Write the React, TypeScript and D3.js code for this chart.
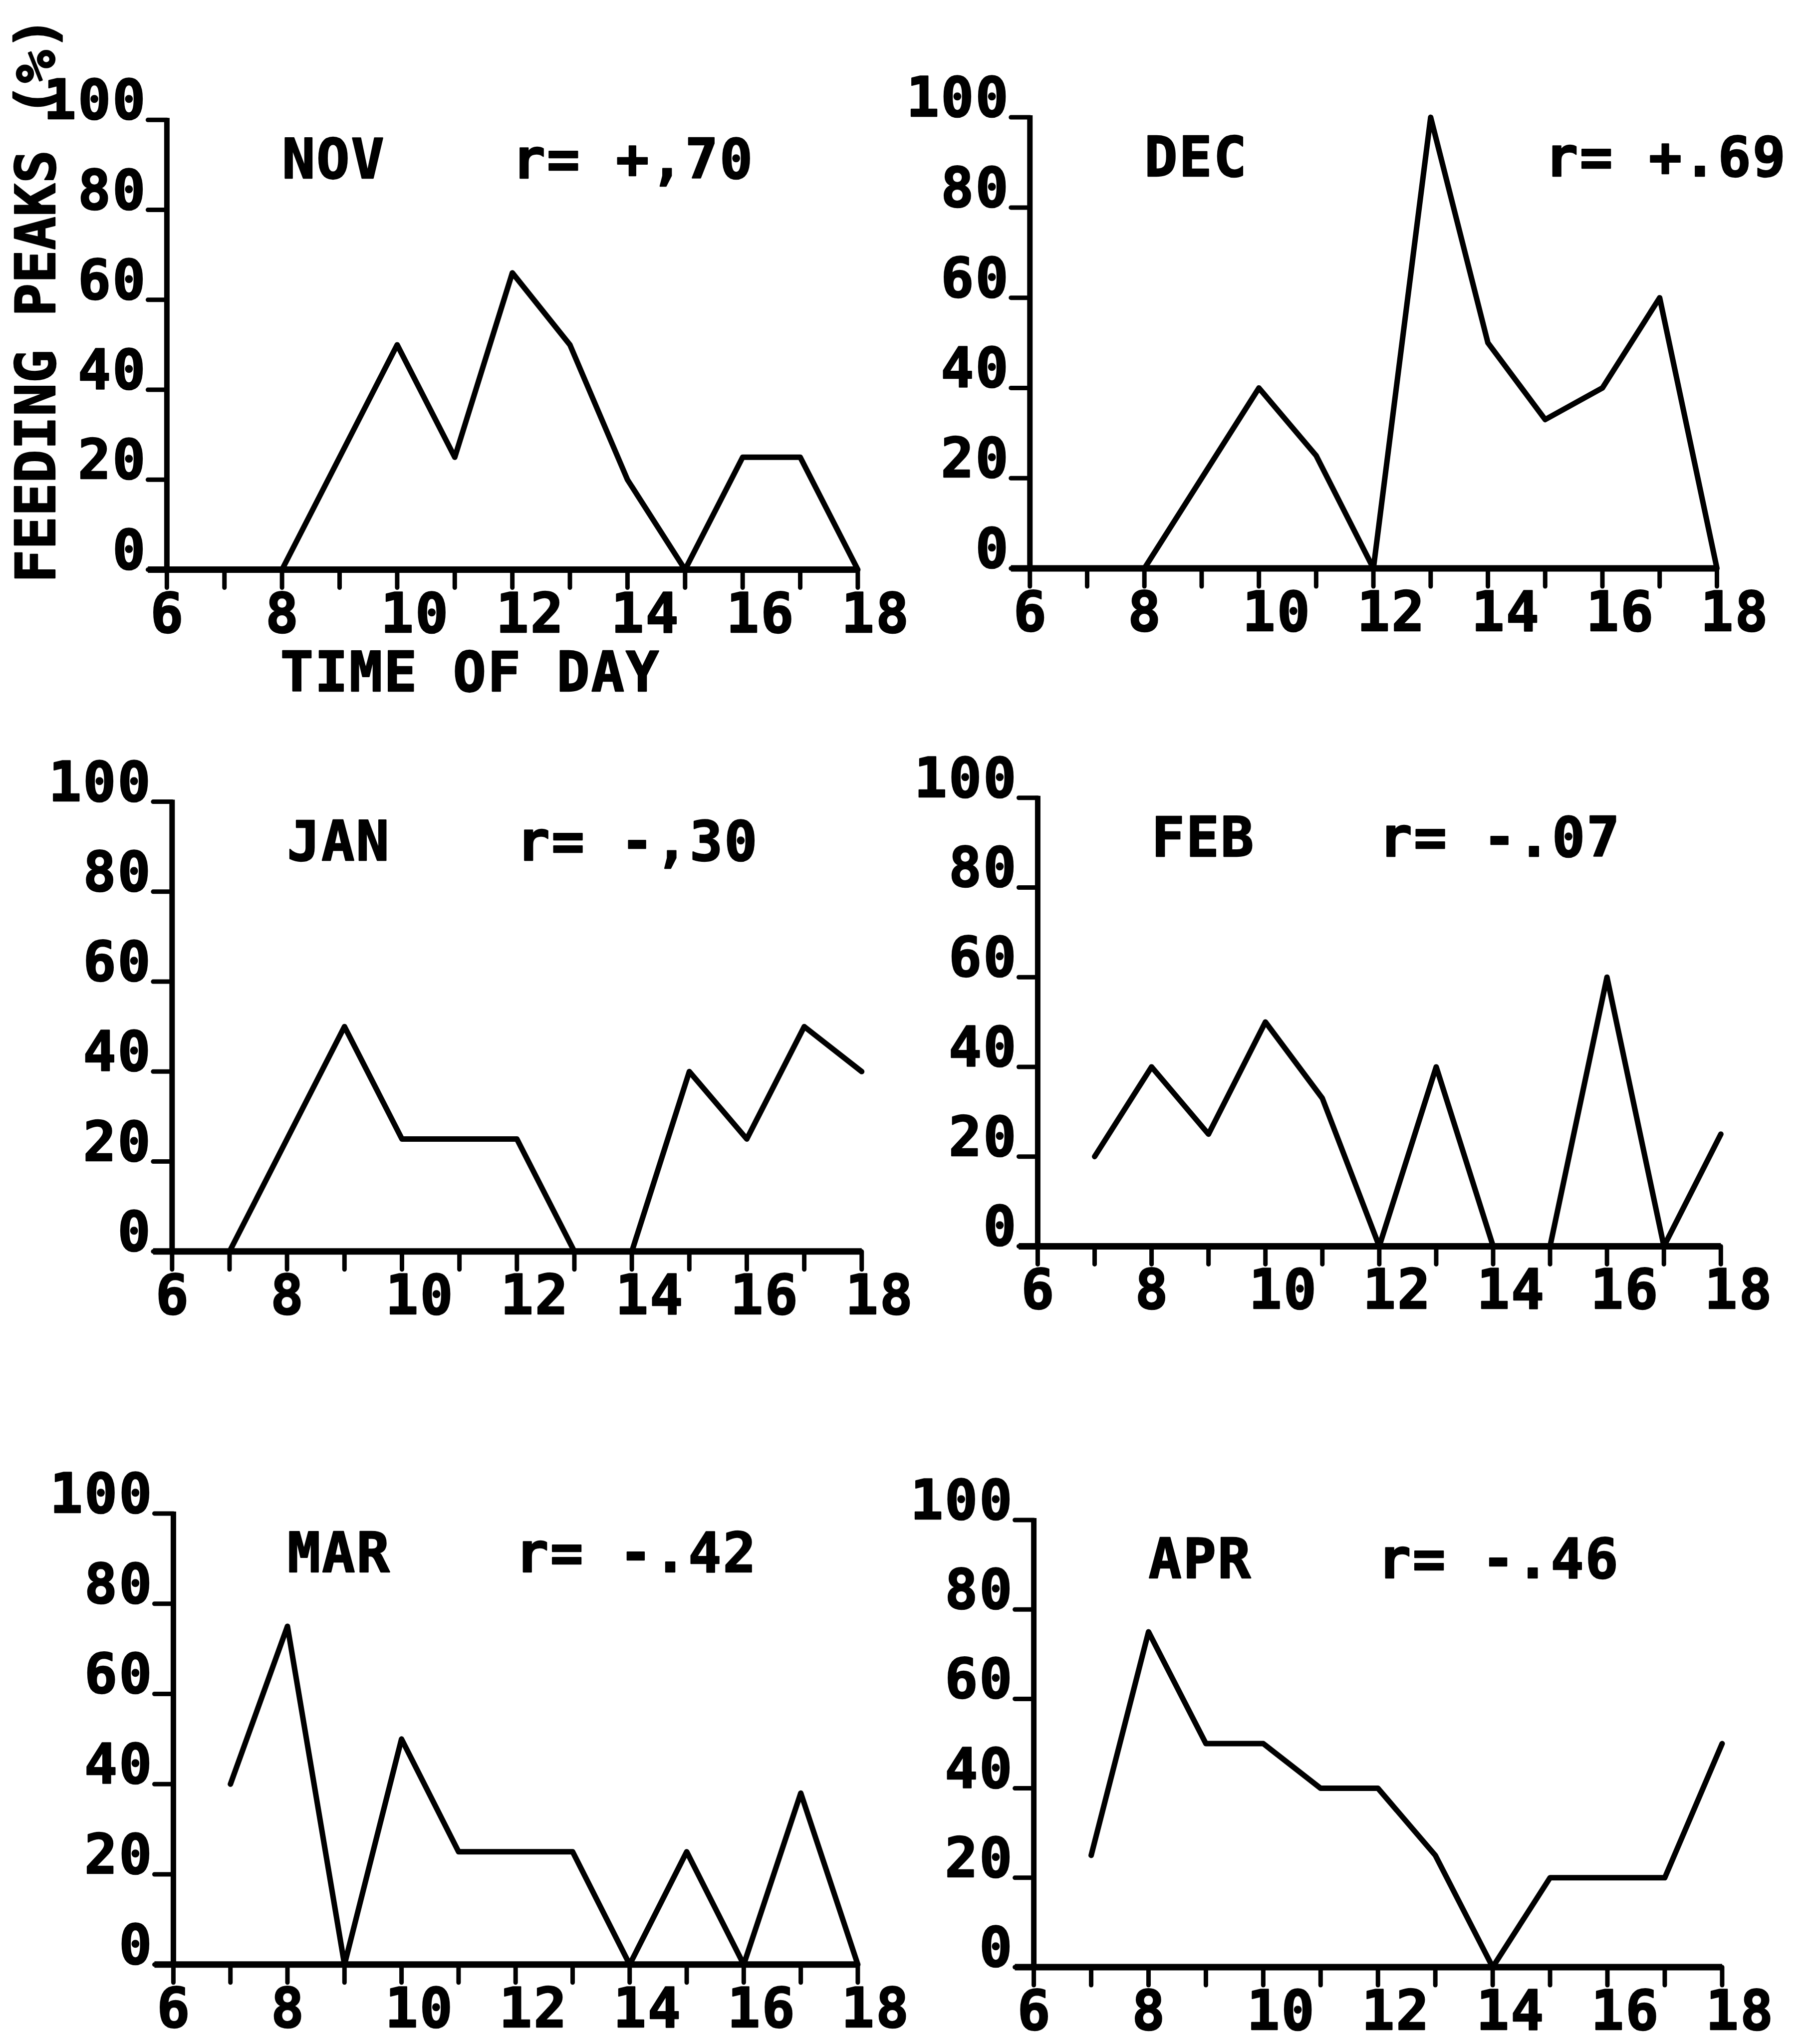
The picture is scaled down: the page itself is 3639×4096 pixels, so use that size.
import React from 'react';
import * as d3 from 'd3';

// Hour of day for each sample (hourly observations)
const HOURS = [7, 8, 9, 10, 11, 12, 13, 14, 15, 16, 17, 18];

// Feeding peaks (%) per hour, one array per month
const NOV = [0, 0, 25, 50, 25, 66, 50, 20, 0, 25, 25, 0];
const DEC = [0, 0, 20, 40, 25, 0, 100, 50, 33, 40, 60, 0];
const JAN = [0, 25, 50, 25, 25, 25, 0, 0, 40, 25, 50, 40];
const FEB = [20, 40, 25, 50, 33, 0, 40, 0, 0, 60, 0, 25];
const MAR = [40, 75, 0, 50, 25, 25, 25, 0, 25, 0, 38, 0];
const APR = [25, 75, 50, 50, 40, 40, 25, 0, 20, 20, 20, 50];

const MONTHS = ['NOV', 'DEC', 'JAN', 'FEB', 'MAR', 'APR'];
const SERIES = [NOV, DEC, JAN, FEB, MAR, APR];
const R_LABELS = ['r= +,70', 'r= +.69', 'r= -,30', 'r= -.07', 'r= -.42', 'r= -.46'];
const R_HOUR = [12, 15, 12, 12, 12, 12];

const X_DOMAIN = [6, 18];
const X_TICKS = [6, 7, 8, 9, 10, 11, 12, 13, 14, 15, 16, 17, 18];
const X_LABELS = [6, 8, 10, 12, 14, 16, 18];
const Y_TICKS = [0, 20, 40, 60, 80, 100];

const W = 3639;
const H = 4096;
const S = W / 1393; // layout unit

// Plot frames: left (hour 6), right (hour 18), bottom (0 %), top (100 %)
const FRAMES = [
  { l: 128, r: 658, b: 437, t: 92 },
  { l: 790, r: 1317, b: 436, t: 90 },
  { l: 132, r: 661, b: 960, t: 615 },
  { l: 796, r: 1320, b: 956, t: 612 },
  { l: 133, r: 658, b: 1507, t: 1161 },
  { l: 793, r: 1321, b: 1509, t: 1166 },
];

const FONT = '"DejaVu Sans Mono", monospace';
const FS = 110;
const LS = 3;
const ADV = FS * 0.602 + LS;

const textStyle = {
  fontFamily: FONT,
  fontWeight: 700 as const,
  fontSize: FS,
  letterSpacing: LS,
  stroke: '#000',
  strokeWidth: 2.5,
  strokeLinejoin: 'round' as const,
};

function Panel({ idx }: { idx: number }) {
  const f = FRAMES[idx];
  const x = d3.scaleLinear().domain(X_DOMAIN).range([f.l * S, f.r * S]);
  const y = d3.scaleLinear().domain([0, 100]).range([f.b * S, f.t * S]);
  const data = HOURS.map((h, i) => [h, SERIES[idx][i]] as [number, number]);
  const line = d3
    .line<[number, number]>()
    .x((d) => x(d[0]))
    .y((d) => y(d[1]));
  const yTickLen = 38;
  const xTickLen = 36;
  return (
    <g>
      {/* y axis */}
      <line x1={x(6)} x2={x(6)} y1={y(0)} y2={y(100) - 4} stroke="#000" strokeWidth={11} />
      {Y_TICKS.map((v) => (
        <g key={'yt' + v}>
          <line x1={x(6) - yTickLen} x2={x(6)} y1={y(v)} y2={y(v)} stroke="#000" strokeWidth={9} strokeLinecap="round" />
          <text x={x(6) - yTickLen - 2} y={y(v) - 2} textAnchor="end" style={textStyle}>
            {String(v)}
          </text>
        </g>
      ))}
      {/* x axis */}
      <line x1={x(6) - yTickLen} x2={x(18)} y1={y(0)} y2={y(0)} stroke="#000" strokeWidth={13} />
      {X_TICKS.map((h) => (
        <line key={'xt' + h} x1={x(h)} x2={x(h)} y1={y(0)} y2={y(0) + xTickLen} stroke="#000" strokeWidth={9} strokeLinecap="round" />
      ))}
      {X_LABELS.map((h) => (
        <text key={'xl' + h} x={x(h) - (ADV - LS) / 2} y={y(0) + 125} textAnchor="start" style={textStyle}>
          {String(h)}
        </text>
      ))}
      {/* data */}
      <path d={line(data) || ''} fill="none" stroke="#000" strokeWidth={11} strokeLinejoin="round" strokeLinecap="round" />
      {/* labels */}
      <text x={x(8)} y={y(87)} style={textStyle}>
        {MONTHS[idx]}
      </text>
      <text x={x(R_HOUR[idx])} y={y(87)} style={textStyle}>
        {R_LABELS[idx]}
      </text>
    </g>
  );
}

export default function App() {
  return (
    <svg
      width={W}
      height={H}
      viewBox={`0 0 ${W} ${H}`}
      style={{ position: 'absolute', left: 0, top: 0, background: '#fff' }}
    >
      <rect x={0} y={0} width={W} height={H} fill="#fff" />
      {MONTHS.map((m, i) => (
        <Panel key={m} idx={i} />
      ))}
      <text x={215 * S} y={530 * S} style={textStyle}>
        TIME OF DAY
      </text>
      <text
        transform={`translate(${42 * S},${447 * S}) rotate(-90)`}
        style={{ ...textStyle, letterSpacing: 0.5 }}
      >
        FEEDING PEAKS (%)
      </text>
    </svg>
  );
}
